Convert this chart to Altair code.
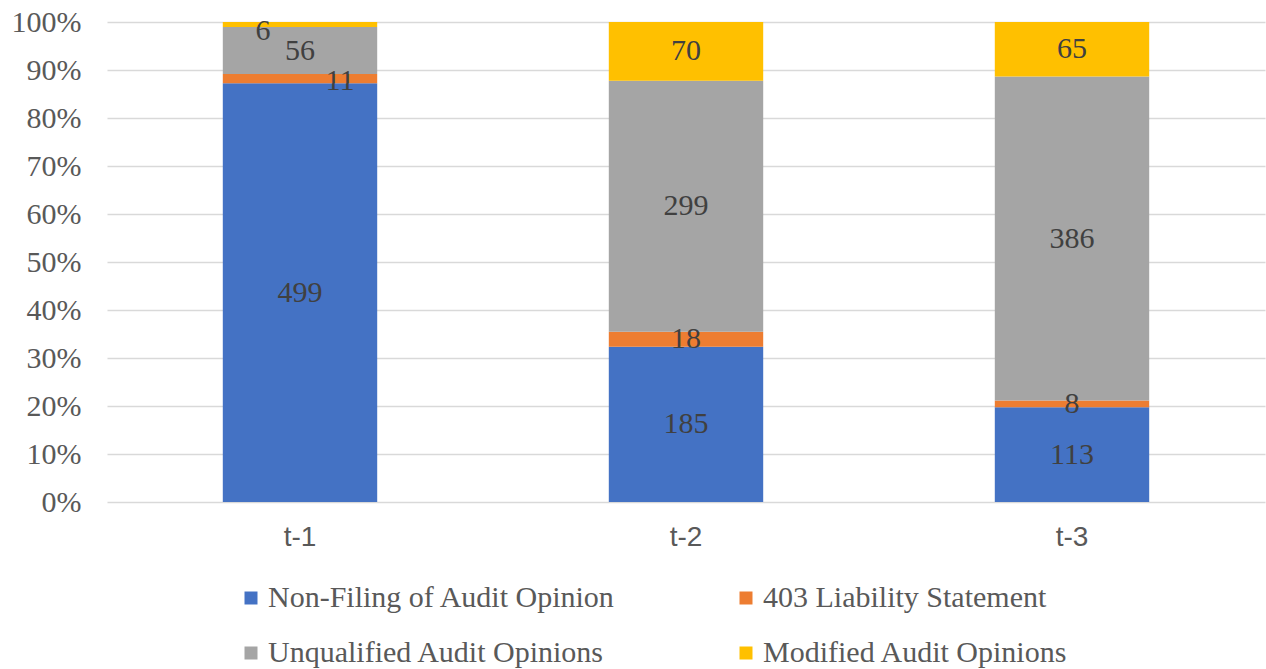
import altair as alt
import pandas as pd

periods = ["t-1", "t-2", "t-3"]
series = ["Non-Filing of Audit Opinion", "403 Liability Statement",
          "Unqualified Audit Opinions", "Modified Audit Opinions"]
colors = ["#4472C4", "#ED7D31", "#A5A5A5", "#FFC000"]
non_filing = [499, 185, 113]
liability_403 = [11, 18, 8]
unqualified = [56, 299, 386]
modified = [6, 70, 65]

rows = []
for i, p in enumerate(periods):
    for k, (s, vals) in enumerate(zip(series, [non_filing, liability_403, unqualified, modified])):
        rows.append({"period": p, "series": s, "order": k, "value": vals[i]})
df = pd.DataFrame(rows)

# legend fills column-major: order so that rows read as in the reference
legend_order = [series[0], series[2], series[1], series[3]]
legend_colors = [colors[0], colors[2], colors[1], colors[3]]

base = alt.Chart(df).transform_stack(
    stack="value", as_=["y0", "y1"], groupby=["period"],
    sort=[alt.SortField("order", order="ascending")], offset="normalize"
).transform_calculate(mid="(datum.y0 + datum.y1) / 2")

xscale = alt.Scale(paddingInner=0.6, paddingOuter=0.3)
yscale = alt.Scale(domain=[0, 1])
xaxis = alt.Axis(labelAngle=0, labelFont="Liberation Sans", labelFontSize=28,
                 labelColor="#595959", labelPadding=21, ticks=False, domain=False, grid=False)
yaxis = alt.Axis(format="%", values=[i / 10 for i in range(11)], labelFont="Liberation Serif",
                 labelFontSize=30, labelColor="#595959", ticks=False, domain=False,
                 labelPadding=26, gridColor="#D9D9D9", gridWidth=1.5)

bars = base.mark_bar().encode(
    x=alt.X("period:N", sort=periods, title=None, scale=xscale, axis=xaxis),
    y=alt.Y("y0:Q", title=None, scale=yscale, axis=yaxis),
    y2="y1:Q",
    color=alt.Color("series:N", scale=alt.Scale(domain=legend_order, range=legend_colors),
                    legend=alt.Legend(orient="none", legendX=129, legendY=561, columns=2,
                                      title=None, symbolType="square", symbolSize=169,
                                      symbolStrokeWidth=0, labelFont="Liberation Serif",
                                      labelFontSize=30, labelColor="#595959", labelOffset=2,
                                      columnPadding=115, rowPadding=25, padding=0,
                                      labelLimit=500)),
)

text_style = dict(font="Liberation Serif", fontSize=30, color="#404040", baseline="middle")
tx = alt.X("period:N", sort=periods, title=None, scale=xscale, axis=xaxis)
ty = alt.Y("mid:Q", title=None, scale=yscale, axis=yaxis)

labels = base.transform_filter(
    "!((datum.period == 't-1') && (datum.order == 1 || datum.order == 3))"
).mark_text(**text_style).encode(x=tx, y=ty, text="value:Q")

label_6 = base.transform_filter(
    "datum.period == 't-1' && datum.order == 3"
).mark_text(dx=-37, dy=6, **text_style).encode(x=tx, y=ty, text="value:Q")

label_11 = base.transform_filter(
    "datum.period == 't-1' && datum.order == 1"
).mark_text(dx=40, dy=2, **text_style).encode(x=tx, y=ty, text="value:Q")

chart = alt.layer(bars, labels, label_6, label_11).properties(
    width=1158, height=480,
    autosize=alt.AutoSizeParams(type="none"),
    padding={"left": 107, "top": 22, "right": 1, "bottom": 167},
).configure(background="white").configure_view(stroke=None)

chart.save("out.html", embed_options={"renderer": "svg", "actions": False})
